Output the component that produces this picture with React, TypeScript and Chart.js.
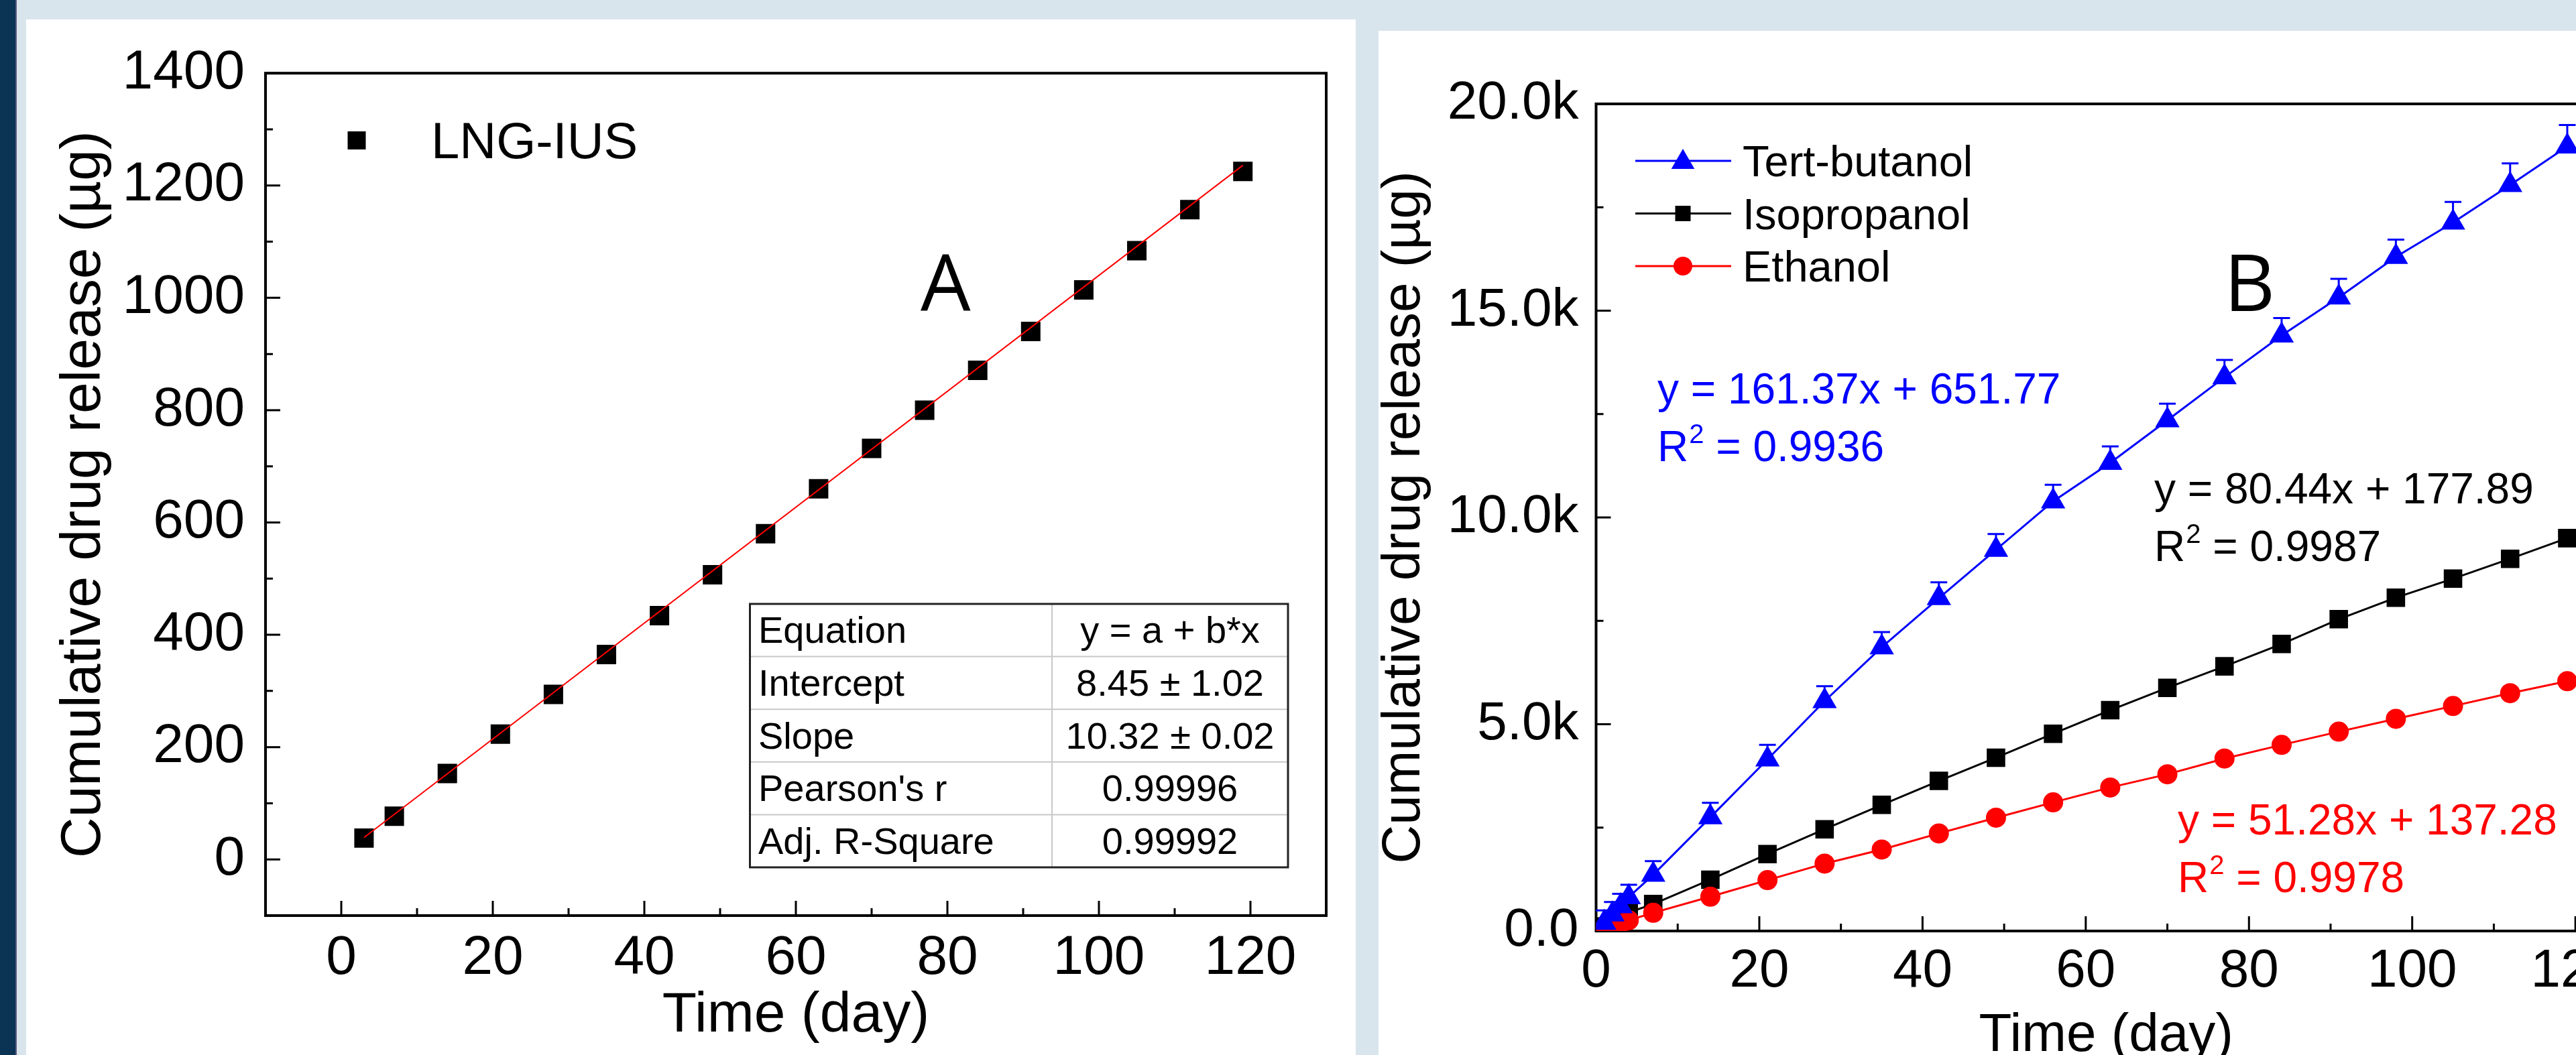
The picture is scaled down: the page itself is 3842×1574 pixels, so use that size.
import React, { useEffect, useRef } from 'react';
import { Chart, registerables } from 'chart.js';

Chart.register(...registerables);

const FONT = "'Liberation Sans', Arial, Helvetica, sans-serif";
const LETTER_FONT = "'Open Sans', 'Liberation Sans', sans-serif";
Chart.defaults.font.family = FONT;
Chart.defaults.color = '#000';

// ---------------- Panel A data ----------------
const DAYS_A = [3, 7, 14, 21, 28, 35, 42, 49, 56, 63, 70, 77, 84, 91, 98, 105, 112, 119];
const LNG_IUS = [38, 77, 153, 223, 294, 365, 434, 507, 580, 660, 732, 800, 871, 940, 1014, 1084, 1157, 1225];
const FIT_DAYS_A = [3, 119];
const FIT_VALUES_A = [39, 1236];
const X_TICKS_A = [0, 20, 40, 60, 80, 100, 120];
const X_MINOR_A = [10, 30, 50, 70, 90, 110];
const Y_TICKS_A = [0, 200, 400, 600, 800, 1000, 1200, 1400];
const Y_MINOR_A = [100, 300, 500, 700, 900, 1100, 1300];
const TABLE_LABELS = ['Equation', 'Intercept', 'Slope', "Pearson's r", 'Adj. R-Square'];
const TABLE_VALUES = ['y = a + b*x', '8.45 \u00b1 1.02', '10.32 \u00b1 0.02', '0.99996', '0.99992'];

// ---------------- Panel B data ----------------
const DAYS_B = [1, 2, 3, 4, 7, 14, 21, 28, 35, 42, 49, 56, 63, 70, 77, 84, 91, 98, 105, 112, 119];
const TERT_BUTANOL = [200, 400, 600, 820, 1360, 2750, 4150, 5560, 6860, 8050, 9220, 10390, 11320, 12350, 13390, 14400, 15320, 16300, 17130, 18040, 18970];
const TERT_BUTANOL_ERR = [300, 300, 300, 300, 330, 350, 350, 360, 370, 380, 380, 400, 400, 400, 420, 420, 450, 420, 500, 520, 520];
const ISOPROPANOL = [110, 220, 330, 450, 650, 1240, 1860, 2460, 3050, 3630, 4190, 4770, 5340, 5880, 6400, 6940, 7540, 8060, 8520, 9000, 9500];
const ETHANOL = [60, 120, 180, 260, 440, 830, 1230, 1630, 1970, 2360, 2740, 3110, 3470, 3790, 4170, 4500, 4820, 5130, 5440, 5750, 6040];
const X_TICKS_B = [0, 20, 40, 60, 80, 100, 120];
const X_MINOR_B = [10, 30, 50, 70, 90, 110];
const Y_TICKS_B = [0, 5000, 10000, 15000, 20000];
const Y_TICK_LABELS_B = ['0.0', '5.0k', '10.0k', '15.0k', '20.0k'];
const Y_MINOR_B = [2500, 7500, 12500, 17500];
const SERIES_B_NAMES = ['Tert-butanol', 'Isopropanol', 'Ethanol'];
const SERIES_B_COLORS = ['#0000ff', '#000000', '#ff0000'];
const FIT_EQ_B = ['y = 161.37x + 651.77', 'y = 80.44x + 177.89', 'y = 51.28x + 137.28'];
const FIT_R2_B = ['0.9936', '0.9987', '0.9978'];

type Pt = { x: number; y: number };
const pts = (xs: number[], ys: number[]): Pt[] => xs.map((x, i) => ({ x, y: ys[i] }));

function drawMarker(ctx: CanvasRenderingContext2D, style: string, x: number, y: number, r: number, color: string) {
  ctx.fillStyle = color;
  ctx.beginPath();
  if (style === 'triangle') {
    ctx.moveTo(x, y - r);
    ctx.lineTo(x + r * Math.sin((2 * Math.PI) / 3), y - r * Math.cos((2 * Math.PI) / 3));
    ctx.lineTo(x + r * Math.sin((4 * Math.PI) / 3), y - r * Math.cos((4 * Math.PI) / 3));
    ctx.closePath();
  } else if (style === 'rect') {
    ctx.rect(x - r, y - r, 2 * r, 2 * r);
  } else {
    ctx.arc(x, y, r, 0, Math.PI * 2);
  }
  ctx.fill();
}

function drawR2(ctx: CanvasRenderingContext2D, x: number, baseline: number, value: string, size: number) {
  ctx.font = `${size}px ${FONT}`;
  ctx.fillText('R', x, baseline);
  let cx = x + ctx.measureText('R').width + 1;
  const sup = Math.round(size * 0.62);
  ctx.font = `${sup}px ${FONT}`;
  ctx.fillText('2', cx, baseline - size * 0.42);
  cx += ctx.measureText('2').width;
  ctx.font = `${size}px ${FONT}`;
  ctx.fillText(' = ' + value, cx, baseline);
}

function frameTicks(id: string, xMajor: number[], xMinor: number[], yMajor: number[], yMinor: number[]) {
  return {
    id,
    beforeDatasetsDraw(chart: any) {
      const { ctx, chartArea: a } = chart;
      const xs = chart.scales.x;
      const ys = chart.scales.y;
      ctx.save();
      ctx.strokeStyle = '#000';
      ctx.lineWidth = 4;
      ctx.strokeRect(a.left, a.top, a.right - a.left, a.bottom - a.top);
      ctx.lineWidth = 3;
      ctx.beginPath();
      xMajor.forEach((v) => {
        const p = xs.getPixelForValue(v);
        ctx.moveTo(p, a.bottom);
        ctx.lineTo(p, a.bottom - 22);
      });
      xMinor.forEach((v) => {
        const p = xs.getPixelForValue(v);
        ctx.moveTo(p, a.bottom);
        ctx.lineTo(p, a.bottom - 11);
      });
      yMajor.forEach((v) => {
        const p = ys.getPixelForValue(v);
        ctx.moveTo(a.left, p);
        ctx.lineTo(a.left + 22, p);
      });
      yMinor.forEach((v) => {
        const p = ys.getPixelForValue(v);
        ctx.moveTo(a.left, p);
        ctx.lineTo(a.left + 11, p);
      });
      ctx.stroke();
      ctx.restore();
    },
  };
}

const annotationsA = {
  id: 'annotationsA',
  afterDraw(chart: any) {
    const ctx: CanvasRenderingContext2D = chart.ctx;
    ctx.save();
    // legend
    drawMarker(ctx, 'rect', 493, 180.5, 13.5, '#000');
    ctx.fillStyle = '#000';
    ctx.textAlign = 'left';
    ctx.textBaseline = 'alphabetic';
    ctx.font = `76px ${FONT}`;
    ctx.fillText('LNG-IUS', 604, 207);
    // panel letter
    ctx.font = `118px ${LETTER_FONT}`;
    ctx.fillText('A', 1334, 435);
    // table
    const left = 1079.5, right = 1882, mid = 1530, top = 872, rowH = 78.6;
    const bottom = top + rowH * TABLE_LABELS.length;
    ctx.fillStyle = '#fff';
    ctx.fillRect(left, top, right - left, bottom - top);
    ctx.strokeStyle = '#c8c8c8';
    ctx.lineWidth = 2;
    ctx.beginPath();
    for (let i = 1; i < TABLE_LABELS.length; i++) {
      ctx.moveTo(left, top + i * rowH);
      ctx.lineTo(right, top + i * rowH);
    }
    ctx.moveTo(mid, top);
    ctx.lineTo(mid, bottom);
    ctx.stroke();
    ctx.strokeStyle = '#222';
    ctx.lineWidth = 3;
    ctx.strokeRect(left, top, right - left, bottom - top);
    ctx.fillStyle = '#000';
    ctx.font = `56px ${FONT}`;
    TABLE_LABELS.forEach((t, i) => {
      ctx.textAlign = 'left';
      ctx.fillText(t, 1092, top + i * rowH + 58.3);
      ctx.textAlign = 'center';
      ctx.fillText(TABLE_VALUES[i], (mid + right) / 2, top + i * rowH + 58.3);
    });
    ctx.restore();
  },
};

const errorBarsB = {
  id: 'errorBarsB',
  afterDatasetsDraw(chart: any) {
    const ctx: CanvasRenderingContext2D = chart.ctx;
    const meta = chart.getDatasetMeta(0);
    const ys = chart.scales.y;
    ctx.save();
    ctx.strokeStyle = SERIES_B_COLORS[0];
    ctx.lineWidth = 3;
    ctx.beginPath();
    meta.data.forEach((el: any, i: number) => {
      const top = ys.getPixelForValue(TERT_BUTANOL[i] + TERT_BUTANOL_ERR[i]);
      ctx.moveTo(el.x, el.y);
      ctx.lineTo(el.x, top);
      ctx.moveTo(el.x - 12.5, top);
      ctx.lineTo(el.x + 12.5, top);
    });
    ctx.stroke();
    ctx.restore();
  },
};

const annotationsB = {
  id: 'annotationsB',
  afterDraw(chart: any) {
    const ctx: CanvasRenderingContext2D = chart.ctx;
    ctx.save();
    // legend
    const styles = ['triangle', 'rect', 'circle'];
    const radii = [20, 11.5, 14];
    const lineY = [194, 272.5, 351];
    SERIES_B_NAMES.forEach((name, i) => {
      ctx.strokeStyle = SERIES_B_COLORS[i];
      ctx.lineWidth = 3;
      ctx.beginPath();
      ctx.moveTo(439, lineY[i]);
      ctx.lineTo(582, lineY[i]);
      ctx.stroke();
      drawMarker(ctx, styles[i], 510, styles[i] === 'triangle' ? lineY[i] + 2 : lineY[i], radii[i], SERIES_B_COLORS[i]);
      ctx.fillStyle = '#000';
      ctx.textAlign = 'left';
      ctx.textBaseline = 'alphabetic';
      ctx.font = `65px ${FONT}`;
      ctx.fillText(name, 599, lineY[i] + 23);
    });
    // panel letter
    ctx.fillStyle = '#000';
    ctx.font = `118px ${LETTER_FONT}`;
    ctx.fillText('B', 1317, 418);
    // fit equations
    const eqPos = [
      [472, 556],
      [1213, 705],
      [1248, 1199],
    ];
    FIT_EQ_B.forEach((eq, i) => {
      ctx.fillStyle = SERIES_B_COLORS[i];
      ctx.font = `64px ${FONT}`;
      ctx.fillText(eq, eqPos[i][0], eqPos[i][1]);
      drawR2(ctx, eqPos[i][0], eqPos[i][1] + 86, FIT_R2_B[i], 64);
    });
    ctx.restore();
  },
};

export default function App() {
  const refA = useRef<HTMLCanvasElement>(null);
  const refB = useRef<HTMLCanvasElement>(null);

  useEffect(() => {
    const chartA = new Chart(refA.current as HTMLCanvasElement, {
      type: 'scatter',
      data: {
        datasets: [
          {
            label: 'Linear fit',
            data: pts(FIT_DAYS_A, FIT_VALUES_A),
            showLine: true,
            borderColor: '#ff0000',
            backgroundColor: '#ff0000',
            borderWidth: 2,
            pointRadius: 0,
          },
          {
            label: 'LNG-IUS',
            data: pts(DAYS_A, LNG_IUS),
            showLine: false,
            pointStyle: 'rect',
            pointRadius: 20.5,
            pointBorderWidth: 0,
            backgroundColor: '#000',
            borderColor: '#000',
          },
        ],
      } as any,
      options: {
        responsive: false,
        animation: false,
        devicePixelRatio: 1,
        events: [],
        layout: { padding: { left: 0, top: 63, right: 44, bottom: 0 } },
        plugins: { legend: { display: false }, tooltip: { enabled: false } },
        scales: {
          x: {
            type: 'linear',
            min: -10,
            max: 130,
            grid: { display: false, drawTicks: false },
            border: { display: false },
            afterBuildTicks: (s: any) => {
              s.ticks = X_TICKS_A.map((v) => ({ value: v }));
            },
            afterFit: (s: any) => {
              s.height = 208;
            },
            ticks: {
              autoSkip: false,
              maxRotation: 0,
              minRotation: 0,
              padding: 15,
              color: '#000',
              font: { size: 82 },
              callback: (v: any) => String(v),
            },
            title: { display: true, text: 'Time (day)', color: '#000', font: { size: 84 }, padding: { top: 0, bottom: 7.6 } },
          },
          y: {
            type: 'linear',
            min: -100,
            max: 1400,
            grid: { display: false, drawTicks: false },
            border: { display: false },
            afterBuildTicks: (s: any) => {
              s.ticks = Y_TICKS_A.map((v) => ({ value: v }));
            },
            afterFit: (s: any) => {
              s.width = 357;
            },
            ticks: { autoSkip: false, padding: 31, color: '#000', font: { size: 82 }, callback: (v: any) => String(v) },
            title: {
              display: true,
              text: 'Cumulative drug release (\u00b5g)',
              color: '#000',
              font: { size: 84 },
              padding: { top: 36.8, bottom: 0 },
            },
          },
        },
      } as any,
      plugins: [frameTicks('frameA', X_TICKS_A, X_MINOR_A, Y_TICKS_A, Y_MINOR_A), annotationsA],
    });

    const chartB = new Chart(refB.current as HTMLCanvasElement, {
      type: 'scatter',
      data: {
        datasets: [
          {
            label: SERIES_B_NAMES[0],
            data: pts(DAYS_B, TERT_BUTANOL),
            showLine: true,
            borderColor: SERIES_B_COLORS[0],
            backgroundColor: SERIES_B_COLORS[0],
            borderWidth: 3,
            pointStyle: 'triangle',
            pointRadius: 21,
            pointBorderWidth: 0,
          },
          {
            label: SERIES_B_NAMES[2],
            data: pts(DAYS_B, ETHANOL),
            showLine: true,
            borderColor: SERIES_B_COLORS[2],
            backgroundColor: SERIES_B_COLORS[2],
            borderWidth: 3,
            pointStyle: 'circle',
            pointRadius: 15,
            pointBorderWidth: 0,
          },
          {
            label: SERIES_B_NAMES[1],
            data: pts(DAYS_B, ISOPROPANOL),
            showLine: true,
            borderColor: SERIES_B_COLORS[1],
            backgroundColor: SERIES_B_COLORS[1],
            borderWidth: 3,
            pointStyle: 'rect',
            pointRadius: 19.5,
            pointBorderWidth: 0,
          },
        ],
      } as any,
      options: {
        responsive: false,
        animation: false,
        devicePixelRatio: 1,
        events: [],
        layout: { padding: { left: 0, top: 109, right: 48, bottom: 0 } },
        plugins: { legend: { display: false }, tooltip: { enabled: false } },
        scales: {
          x: {
            type: 'linear',
            min: 0,
            max: 125,
            grid: { display: false, drawTicks: false },
            border: { display: false },
            afterBuildTicks: (s: any) => {
              s.ticks = X_TICKS_B.map((v) => ({ value: v }));
            },
            afterFit: (s: any) => {
              s.height = 257;
            },
            ticks: {
              autoSkip: false,
              maxRotation: 0,
              minRotation: 0,
              padding: 12.5,
              color: '#000',
              font: { size: 80 },
              callback: (v: any) => String(v),
            },
            title: { display: true, text: 'Time (day)', color: '#000', font: { size: 80 }, padding: { top: 0, bottom: 52.4 } },
          },
          y: {
            type: 'linear',
            min: 0,
            max: 20000,
            grid: { display: false, drawTicks: false },
            border: { display: false },
            afterBuildTicks: (s: any) => {
              s.ticks = Y_TICKS_B.map((v) => ({ value: v }));
            },
            afterFit: (s: any) => {
              s.width = 380.5;
            },
            ticks: {
              autoSkip: false,
              padding: 26,
              color: '#000',
              font: { size: 80 },
              callback: (v: any) => Y_TICK_LABELS_B[Y_TICKS_B.indexOf(Number(v))] ?? '',
            },
            title: {
              display: true,
              text: 'Cumulative drug release (\u00b5g)',
              color: '#000',
              font: { size: 80 },
              padding: { top: 47, bottom: 0 },
            },
          },
        },
      } as any,
      plugins: [frameTicks('frameB', X_TICKS_B, X_MINOR_B, Y_TICKS_B, Y_MINOR_B), errorBarsB, annotationsB],
    });

    return () => {
      chartA.destroy();
      chartB.destroy();
    };
  }, []);

  return (
    <div
      style={{
        position: 'fixed',
        left: 0,
        top: 0,
        width: '100vw',
        height: '100vh',
        overflow: 'hidden',
        background: '#d9e5ec',
      }}
    >
      <div style={{ position: 'absolute', left: 0, top: 0, width: 23, height: '100%', background: '#0a3354' }} />
      <div style={{ position: 'absolute', left: 23, top: 0, width: 2, height: '100%', background: '#5d5a80' }} />
      <div style={{ position: 'absolute', left: 39, top: 29, width: 1983, height: 1545, background: '#ffffff' }} />
      <div style={{ position: 'absolute', left: 2056, top: 46, width: 1900, height: 1600, background: '#ffffff' }} />
      <canvas
        ref={refA}
        width={1983}
        height={1545}
        style={{ position: 'absolute', left: 39, top: 29, width: 1983, height: 1545 }}
      />
      <canvas
        ref={refB}
        width={1950}
        height={1600}
        style={{ position: 'absolute', left: 2000, top: 46, width: 1950, height: 1600 }}
      />
    </div>
  );
}
